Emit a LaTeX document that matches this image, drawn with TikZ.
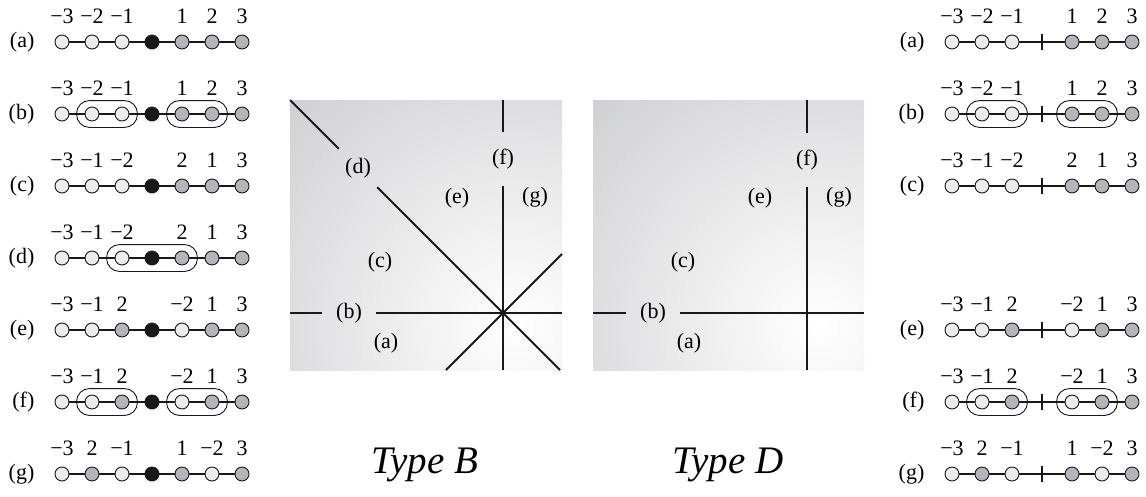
\documentclass[tikz,border=0pt]{standalone}
\usepackage{fontspec}
\setmainfont{Liberation Serif}
\usetikzlibrary{positioning,fit,calc}
\definecolor{negfill}{HTML}{EBEBEB}
\definecolor{posfill}{HTML}{B3B5BB}
\definecolor{panelgray}{HTML}{A9AAAE}

% signed label, with a true minus sign
\newcommand{\numlabel}[1]{\ifnum#1<0 −\number\numexpr0-(#1)\relax\else#1\fi}

% #1 name, #2 x of first dot, #3 y, #4 row letter, #5 values, #6 style of the centre
\newcommand{\chain}[6]{%
  \foreach \v [count=\i] in {#5} {
    \ifnum\i=4
      \node[#6] (#1-\i) at ({#2+30*(\i-1)},#3) {};
    \else
      \ifnum\v<0 \def\dotfill{negfill}\else\def\dotfill{posfill}\fi
      \node[dot,fill=\dotfill] (#1-\i) at ({#2+30*(\i-1)},#3) {};
      \node[numlab,above=10.5pt of #1-\i] {\numlabel{\v}};
    \fi
  }
  \foreach \i [count=\j from 2] in {1,...,6}
    \draw[link] (#1-\i) -- (#1-\j);
  \node[rowlab,left=20pt of #1-1] {(#4)};
}

\begin{document}
\begin{tikzpicture}[x=1pt,y=-1pt,
  dot/.style={circle,draw=black!90,line width=0.9pt,minimum size=14pt,inner sep=0pt},
  hub/.style={dot,fill=black!90},
  tick/.style={rectangle,fill=black!90,inner sep=0pt,minimum width=1.5pt,minimum height=16pt},
  link/.style={line width=1.3pt,black!90},
  grp/.style={draw=black!90,line width=0.9pt,rounded corners=13pt,inner xsep=8pt,inner ysep=6pt},
  numlab/.style={inner sep=0pt,font=\fontsize{22}{26}\selectfont},
  rowlab/.style={inner sep=0pt,font=\fontsize{22}{26}\selectfont},
  plab/.style={inner sep=0pt,font=\fontsize{22}{26}\selectfont},
  cut/.style={plab,circle,minimum size=54pt},
  axis/.style={line width=1.8pt,black!90},
  typelab/.style={font=\fontsize{39}{44}\selectfont\itshape}]
\path[use as bounding box,fill=white] (0,0) rectangle (1146,496);

% left column
\chain{la}{62}{42}{a}{-3,-2,-1,0,1,2,3}{hub}
\chain{lb}{62}{114}{b}{-3,-2,-1,0,1,2,3}{hub}
\chain{lc}{62}{186}{c}{-3,-1,-2,0,2,1,3}{hub}
\chain{ld}{62}{258}{d}{-3,-1,-2,0,2,1,3}{hub}
\chain{le}{62}{330}{e}{-3,-1,2,0,-2,1,3}{hub}
\chain{lf}{62}{402}{f}{-3,-1,2,0,-2,1,3}{hub}
\chain{lg}{62}{474}{g}{-3,2,-1,0,1,-2,3}{hub}
\node[grp,fit=(lb-2)(lb-3)] {};
\node[grp,fit=(lb-5)(lb-6)] {};
\node[grp,fit=(ld-3)(ld-5)] {};
\node[grp,fit=(lf-2)(lf-3)] {};
\node[grp,fit=(lf-5)(lf-6)] {};

% right column
\chain{ra}{952}{42}{a}{-3,-2,-1,0,1,2,3}{tick}
\chain{rb}{952}{114}{b}{-3,-2,-1,0,1,2,3}{tick}
\chain{rc}{952}{186}{c}{-3,-1,-2,0,2,1,3}{tick}
\chain{re}{952}{330}{e}{-3,-1,2,0,-2,1,3}{tick}
\chain{rf}{952}{402}{f}{-3,-1,2,0,-2,1,3}{tick}
\chain{rg}{952}{474}{g}{-3,2,-1,0,1,-2,3}{tick}
\node[grp,fit=(rb-2)(rb-3)] {};
\node[grp,fit=(rb-5)(rb-6)] {};
\node[grp,fit=(rf-2)(rf-3)] {};
\node[grp,fit=(rf-5)(rf-6)] {};

% Type B panel
\begin{scope}
  \clip (290,100) rectangle (562,370);
  \shade[inner color=white,outer color=panelgray] (515,325) circle (580);
\end{scope}
\coordinate (bW) at (290,313);
\coordinate (bE) at (562,313);
\coordinate (bN) at (503,100);
\coordinate (bS) at (503,370);
\coordinate (bNW) at (290,100);
\coordinate (bSE) at (560,370);
\coordinate (bSW) at (446,370);
\coordinate (bNE) at (562,254);
\node[cut] (Bb) at (349,313) {(b)};
\node[cut] (Bd) at (358,168) {(d)};
\node[cut] (Bf) at (503,159) {(f)};
\node[plab] (Ba) at (386,343) {(a)};
\node[plab] (Bc) at (380,262) {(c)};
\node[plab] (Be) at (457,198) {(e)};
\node[plab] (Bg) at (535,197) {(g)};
\draw[axis] (bW) -- (Bb);
\draw[axis] (Bb) -- (bE);
\draw[axis] (bN) -- (Bf);
\draw[axis] (Bf) -- (bS);
\draw[axis] (bNW) -- (Bd);
\draw[axis] (Bd) -- (bSE);
\draw[axis] (bSW) -- (bNE);

% Type D panel
\begin{scope}
  \clip (593,100) rectangle (864,370);
  \shade[inner color=white,outer color=panelgray] (819,325) circle (580);
\end{scope}
\coordinate (dW) at (593,313);
\coordinate (dE) at (864,313);
\coordinate (dN) at (807,100);
\coordinate (dS) at (807,370);
\node[cut] (Db) at (653,313) {(b)};
\node[cut] (Df) at (807,160) {(f)};
\node[plab] (Da) at (689,343) {(a)};
\node[plab] (Dc) at (683,262) {(c)};
\node[plab] (De) at (760,198) {(e)};
\node[plab] (Dg) at (839,197) {(g)};
\draw[axis] (dW) -- (Db);
\draw[axis] (Db) -- (dE);
\draw[axis] (dN) -- (Df);
\draw[axis] (Df) -- (dS);

\node[typelab] (typeB) at (425,465) {Type B};
\node[typelab] (typeD) at (728,465) {Type D};
\end{tikzpicture}
\end{document}
